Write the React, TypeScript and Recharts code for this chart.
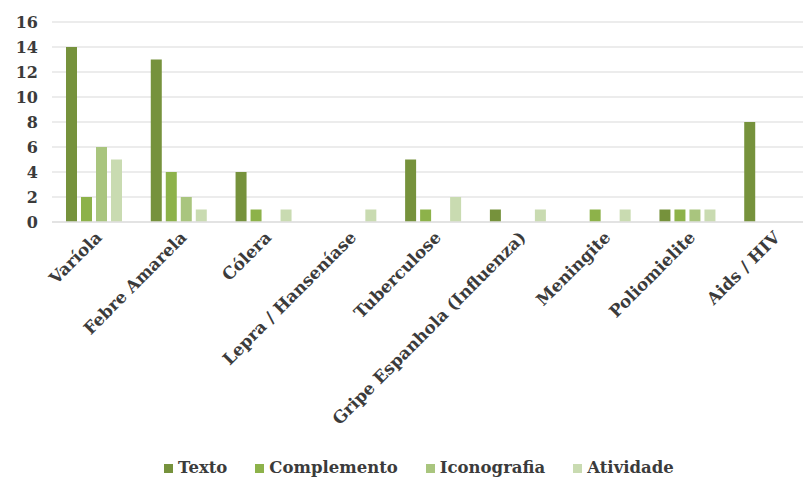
import { BarChart, Bar, XAxis, YAxis, CartesianGrid, Legend } from "recharts";

const categories = [
  "Varíola",
  "Febre Amarela",
  "Cólera",
  "Lepra / Hanseníase",
  "Tuberculose",
  "Gripe Espanhola (Influenza)",
  "Meningite",
  "Poliomielite",
  "Aids / HIV",
];
const texto = [14, 13, 4, 0, 5, 1, 0, 1, 8];
const complemento = [2, 4, 1, 0, 1, 0, 1, 1, 0];
const iconografia = [6, 2, 0, 0, 0, 0, 0, 1, 0];
const atividade = [5, 1, 1, 1, 2, 1, 1, 1, 0];
const yTicks = [0, 2, 4, 6, 8, 10, 12, 14, 16];

const seriesNames = ["Texto", "Complemento", "Iconografia", "Atividade"];
const seriesColors = ["#76923c", "#8db24a", "#a9c57e", "#c9dbb1"];

const data = categories.map((name, i) => ({
  name,
  Texto: texto[i],
  Complemento: complemento[i],
  Iconografia: iconografia[i],
  Atividade: atividade[i],
}));

const font = "'DejaVu Serif', serif";
const textColor = "#3b3b3b";

function XTick({ x, y, payload }: any) {
  return (
    <g transform={`translate(${x},${y})`}>
      <text
        x={0}
        y={0}
        dy={12}
        textAnchor="end"
        transform="rotate(-45)"
        fontFamily={font}
        fontWeight="bold"
        fontSize={16.8}
        fill={textColor}
      >
        {payload.value}
      </text>
    </g>
  );
}

function LegendContent() {
  return (
    <div
      style={{
        display: "flex",
        justifyContent: "flex-start",
        paddingLeft: 164,
        paddingTop: 5,
        fontFamily: font,
        fontWeight: "bold",
        fontSize: 16.5,
        color: textColor,
        lineHeight: "20px",
      }}
    >
      {seriesNames.map((n, i) => (
        <span key={n} style={{ display: "flex", alignItems: "center", marginRight: 28 }}>
          <span
            style={{
              display: "inline-block",
              width: 9,
              height: 9,
              background: seriesColors[i],
              marginRight: 5,
            }}
          />
          {n}
        </span>
      ))}
    </div>
  );
}

export default function App() {
  return (
    <div
      style={{
        position: "absolute",
        left: 0,
        top: 0,
        width: 803,
        height: 478,
        overflow: "hidden",
        background: "#fff",
      }}
    >
      <BarChart
        width={815}
        height={478}
        data={data}
        margin={{ top: 22, right: 0, left: 0, bottom: 0 }}
        barSize={11}
        barGap={4}
      >
        <CartesianGrid vertical={false} stroke="#e6e6e6" strokeWidth={1.5} />
        <XAxis
          dataKey="name"
          interval={0}
          height={231}
          tick={<XTick />}
          tickLine={false}
          axisLine={{ stroke: "#e0e0e0", strokeWidth: 1.5 }}
        />
        <YAxis
          domain={[0, 16]}
          ticks={yTicks}
          width={52}
          tickLine={false}
          axisLine={false}
          tick={{ fontFamily: font, fontWeight: "bold", fontSize: 16, fill: textColor }}
          tickMargin={8}
        />
        <Legend verticalAlign="bottom" content={<LegendContent />} />
        {seriesNames.map((n, i) => (
          <Bar key={n} dataKey={n} fill={seriesColors[i]} isAnimationActive={false} />
        ))}
      </BarChart>
    </div>
  );
}
